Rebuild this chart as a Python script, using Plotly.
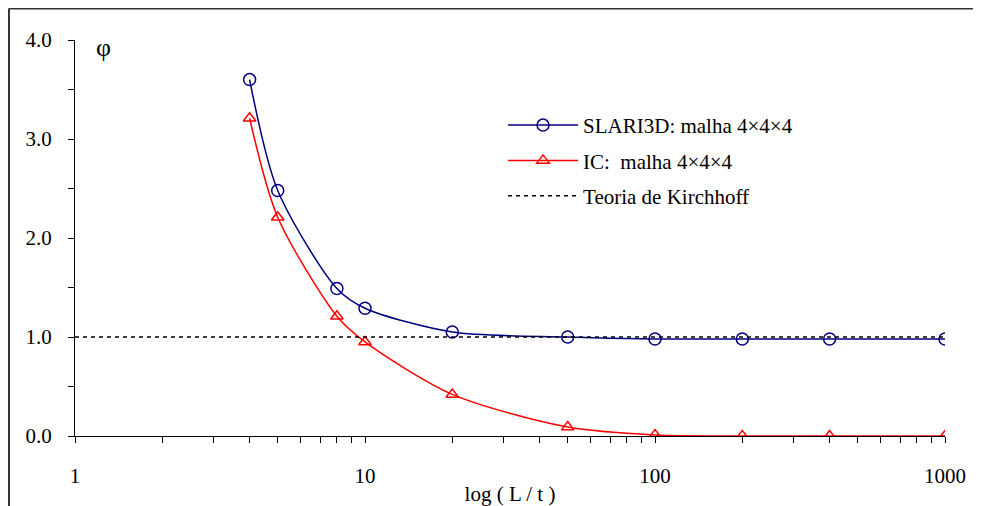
import plotly.graph_objects as go

ratio = [4, 5, 8, 10, 20, 50, 100, 200, 400, 1000]
slari3d = [3.60, 2.48, 1.49, 1.29, 1.05, 1.00, 0.98, 0.98, 0.98, 0.98]
ic = [3.21, 2.21, 1.21, 0.95, 0.42, 0.09, 0.01, 0.0, 0.0, 0.0]
kirch_x = [1, 1000]
kirch_y = [1.0, 1.0]
y_ticks = [0, 1, 2, 3, 4]
y_labels = ["0.0", "1.0", "2.0", "3.0", "4.0"]
x_ticks = [1, 10, 100, 1000]
x_labels = ["1", "10", "100", "1000"]

FONT = "Liberation Serif"
FS = 21

fig = go.Figure()
fig.add_trace(go.Scatter(
    x=ratio, y=slari3d, mode="lines+markers", name="SLARI3D: malha 4×4×4",
    legendgroup="a",
    line=dict(color="#000080", width=1.5, shape="spline", smoothing=0.8),
    marker=dict(symbol="circle-open", size=12, color="#000080", line=dict(width=1.5)),
))
fig.add_trace(go.Scatter(
    x=ratio, y=ic, mode="lines+markers", name="IC:  malha 4×4×4",
    legendgroup="b",
    line=dict(color="#ff0000", width=1.5, shape="spline", smoothing=0.8),
    marker=dict(symbol="triangle-up-open", size=11, color="#ff0000", line=dict(width=1.5)),
))
fig.add_trace(go.Scatter(
    x=kirch_x, y=kirch_y, mode="lines", name="Teoria de Kirchhoff",
    legendgroup="c",
    line=dict(color="black", width=1.5, dash="4px,4px"),
))

fig.update_layout(
    width=973, height=498,
    margin=dict(l=67, r=36, t=32, b=70),
    paper_bgcolor="white", plot_bgcolor="white",
    font=dict(family=FONT, size=FS, color="black"),
    showlegend=True,
    legend=dict(
        x=0.492, y=0.836, xanchor="left", yanchor="top",
        bgcolor="rgba(0,0,0,0)", font=dict(family=FONT, size=FS),
        itemwidth=70, traceorder="grouped", tracegroupgap=5,
    ),
    xaxis=dict(
        type="log", range=[0, 3], automargin=False,
        tickvals=x_ticks, ticktext=x_labels,
        showline=True, linecolor="black", linewidth=1,
        ticks="outside", ticklen=6, tickcolor="black",
        minor=dict(ticks="outside", ticklen=6, tickcolor="black", dtick="D1", showgrid=False),
        showgrid=False, zeroline=False,
        ticklabelstandoff=15,
        title=dict(text="log ( L / t )", font=dict(family=FONT, size=FS), standoff=0),
    ),
    yaxis=dict(
        range=[0, 4], automargin=False,
        tickvals=y_ticks, ticktext=y_labels,
        showline=True, linecolor="black", linewidth=1,
        ticks="outside", ticklen=6, tickcolor="black",
        minor=dict(ticks="outside", ticklen=6, tickcolor="black", dtick=0.5, showgrid=False),
        showgrid=False, zeroline=False,
        ticklabelstandoff=12,
    ),
    shapes=[
        dict(type="line", xref="paper", yref="paper", x0=-0.0759, x1=1.05, y0=1.0795, y1=1.0795,
             line=dict(color="#333333", width=2)),
        dict(type="line", xref="paper", yref="paper", x0=-0.0759, x1=-0.0759, y0=1.0795, y1=-0.2,
             line=dict(color="#333333", width=2)),
    ],
    annotations=[
        dict(text="φ", xref="paper", yref="paper", x=0.033, y=0.98, showarrow=False,
             font=dict(family=FONT, size=26), xanchor="center", yanchor="middle"),
    ],
)

fig.write_html("out.html")
